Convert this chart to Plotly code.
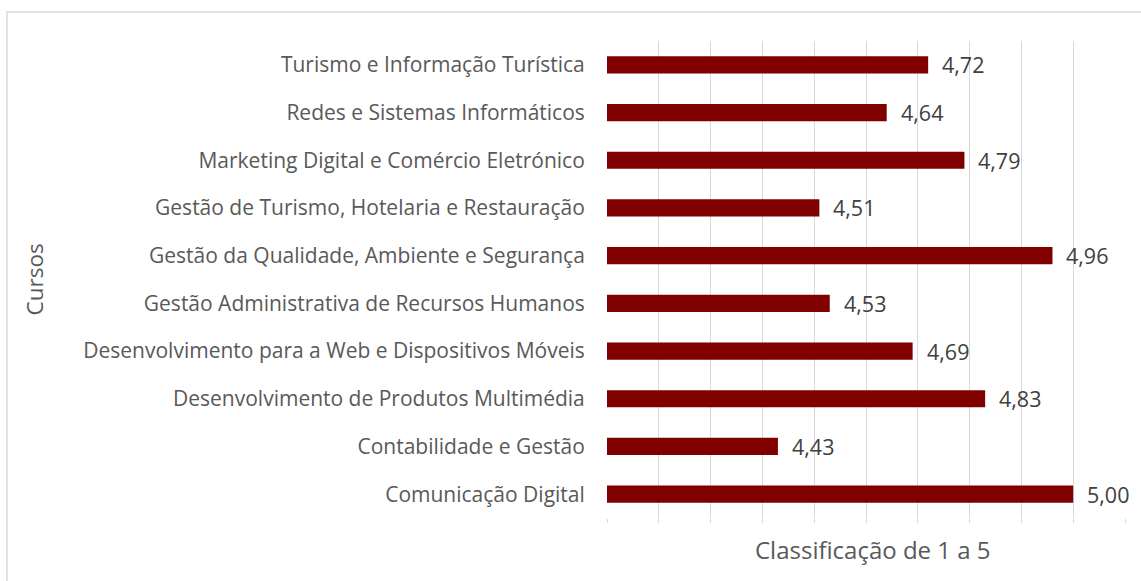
import plotly.graph_objects as go

cursos = [
    "Comunicação Digital",
    "Contabilidade e Gestão",
    "Desenvolvimento de Produtos Multimédia",
    "Desenvolvimento para a Web e Dispositivos Móveis",
    "Gestão Administrativa de Recursos Humanos",
    "Gestão da Qualidade, Ambiente e Segurança",
    "Gestão de Turismo, Hotelaria e Restauração",
    "Marketing Digital e Comércio Eletrónico",
    "Redes e Sistemas Informáticos",
    "Turismo e Informação Turística",
]
classificacao = [5.00, 4.43, 4.83, 4.69, 4.53, 4.96, 4.51, 4.79, 4.64, 4.72]

x_title = "Classificação de 1 a 5"
y_title = "Cursos"

BASE = 4.1
FONT = "Open Sans"
GREY = "#595959"

fig = go.Figure()
fig.add_trace(go.Bar(
    x=[v - BASE for v in classificacao],
    y=cursos,
    orientation="h",
    base=BASE,
    marker=dict(color="#800000", line=dict(width=0)),
    width=0.36,
    customdata=classificacao,
    hovertemplate="%{y}: %{customdata:.2f}<extra></extra>",
))

for c, v in zip(cursos, classificacao):
    fig.add_annotation(
        x=v, y=c, xref="x", yref="y",
        text=f"{v:.2f}".replace(".", ","),
        showarrow=False, xanchor="left", xshift=12,
        font=dict(family=FONT, size=21.5, color="#404040"),
    )

fig.add_annotation(
    x=0.5, y=0, xref="paper", yref="paper", yshift=-31, xshift=7,
    text=x_title, showarrow=False, xanchor="center", yanchor="middle",
    font=dict(family=FONT, size=24, color=GREY),
)
fig.add_annotation(
    x=(34 - 607) / 518, y=0.5, xref="paper", yref="paper",
    text=y_title, showarrow=False, textangle=-90,
    xanchor="center", yanchor="middle",
    font=dict(family=FONT, size=22.5, color=GREY),
)

fig.add_shape(
    type="rect", xref="paper", yref="paper",
    x0=(7 - 607) / 518, x1=1.2, y0=-0.3, y1=1 + (41 - 12) / 477,
    line=dict(color="#d9d9d9", width=1.5), fillcolor="rgba(0,0,0,0)",
    layer="below",
)

fig.update_layout(
    width=1141, height=581,
    margin=dict(l=607, r=16, t=41, b=63),
    paper_bgcolor="white", plot_bgcolor="white",
    showlegend=False,
    xaxis=dict(
        range=[4.1, 5.1], dtick=0.1, tick0=4.1,
        showgrid=True, gridcolor="#d9d9d9", gridwidth=1,
        showticklabels=False, zeroline=False, showline=False,
        ticks="outside", ticklen=4, tickcolor="#d9d9d9",
        fixedrange=True,
    ),
    yaxis=dict(
        categoryorder="array", categoryarray=cursos,
        showgrid=False, zeroline=False, showline=False,
        ticks="outside", ticklen=17, tickcolor="rgba(0,0,0,0)",
        tickfont=dict(family=FONT, size=21, color=GREY),
        fixedrange=True,
    ),
)

fig.write_html(
    "out.html",
    config={"displayModeBar": False},
    post_script="document.body.style.margin='0';document.body.style.overflow='hidden';",
)
